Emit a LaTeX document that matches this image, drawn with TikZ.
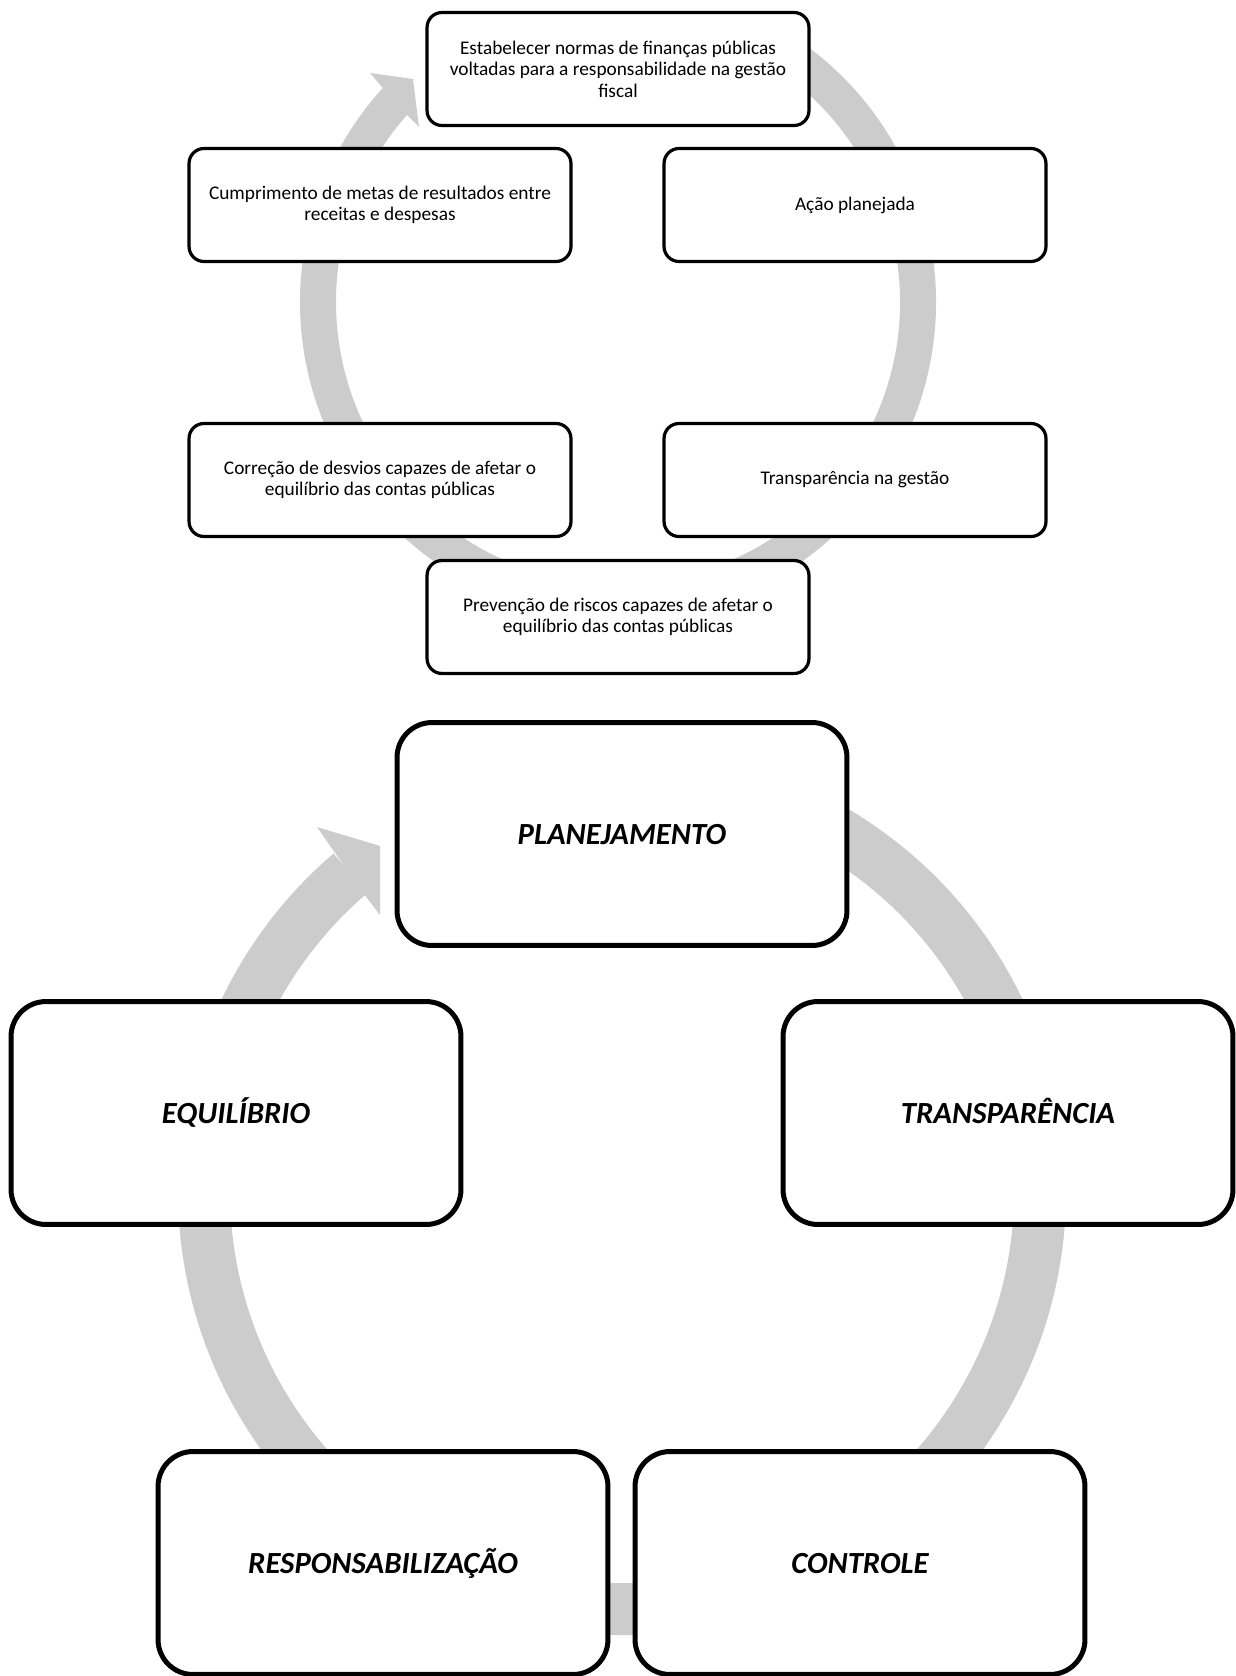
\documentclass[tikz,border=0pt]{standalone}
\usepackage{fontspec}
\setmainfont{Carlito}
\definecolor{ringgray}{RGB}{204,204,204}

\begin{document}
\begin{tikzpicture}[x=0.02cm, y=-0.02cm,
    smallbox/.style={draw, fill=white, line width=0.064cm, rounded corners=0.3cm,
      minimum width=7.64cm, minimum height=2.26cm, align=center,
      font=\fontsize{11}{12.3}\selectfont},
    bigbox/.style={draw, fill=white, line width=0.1cm, rounded corners=0.7cm,
      minimum width=9cm, minimum height=4.46cm, align=center,
      text height=12pt, text depth=0.5pt,
      font=\fontsize{17.5}{21}\selectfont\bfseries\itshape}]
        \useasboundingbox (0,0) rectangle (1236,1676);
        %
        % upper cycle
        \draw [ringgray, line width=0.72cm] (618,302) ++(-60:300) arc [start angle=-60, end angle=222.5, radius=300];
        \fill [ringgray] (370,73) -- (413,79) -- (419,127) -- (407,115) -- (382,87) -- cycle;
        %
        \node [smallbox] (normas) at (618,69) {Estabelecer normas de finanças públicas\\voltadas para a responsabilidade na gestão\\fiscal};
        \node [smallbox] (metas) at (380,205) {Cumprimento de metas de resultados entre\\receitas e despesas};
        \node [smallbox] (acao) at (855,205) {Ação planejada};
        \node [smallbox] (desvios) at (380,480) {Correção de desvios capazes de afetar o\\equilíbrio das contas públicas};
        \node [smallbox] (gestao) at (855,480) {Transparência na gestão};
        \node [smallbox] (riscos) at (618,617) {Prevenção de riscos capazes de afetar o\\equilíbrio das contas públicas};
        %
        % lower cycle
        \draw [ringgray, line width=1.04cm] (622,1191) ++(-60:418) arc [start angle=-60, end angle=229.5, radius=418];
        \fill [ringgray] (317,827) -- (380,846) -- (380,915) -- (364,894) -- (333,850) -- cycle;
        %
        \node [bigbox] (plan) at (622,834) {PLANEJAMENTO};
        \node [bigbox] (equil) at (236,1113) {EQUILÍBRIO};
        \node [bigbox] (transp) at (1008,1113) {TRANSPARÊNCIA};
        \node [bigbox] (resp) at (383,1563) {RESPONSABILIZAÇÃO};
        \node [bigbox] (contr) at (860,1563) {CONTROLE};
      \end{tikzpicture}
\end{document}
